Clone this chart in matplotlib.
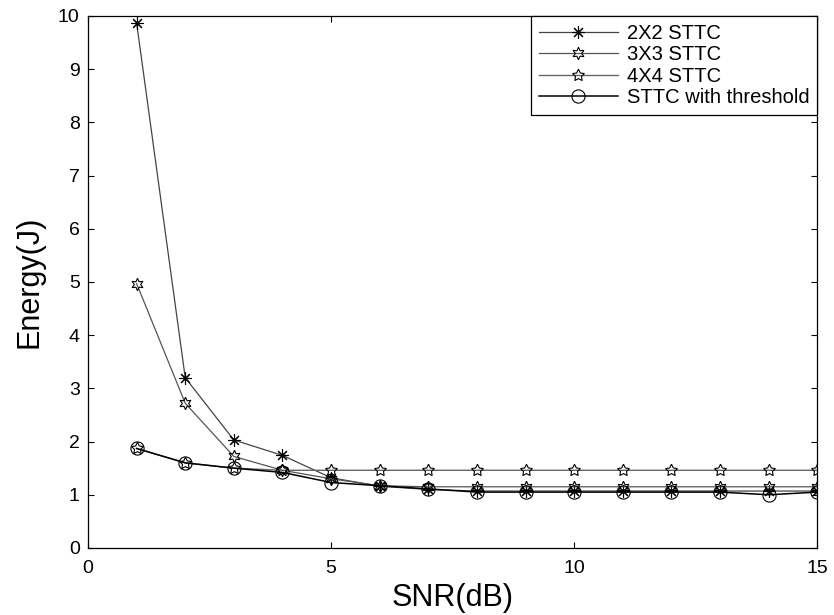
import matplotlib
matplotlib.use("Agg")
import matplotlib.pyplot as plt

plt.rcParams['font.family'] = ['Liberation Sans', 'DejaVu Sans']

snr = list(range(1, 16))
e_2x2 = [9.87, 3.2, 2.03, 1.74, 1.32, 1.16, 1.1, 1.07, 1.07, 1.07, 1.07, 1.07, 1.07, 1.07, 1.07]
e_3x3 = [4.97, 2.72, 1.72, 1.46, 1.3, 1.17, 1.15, 1.15, 1.15, 1.15, 1.15, 1.15, 1.15, 1.15, 1.15]
e_4x4 = [1.87, 1.6, 1.5, 1.46, 1.46, 1.46, 1.46, 1.46, 1.46, 1.46, 1.46, 1.46, 1.46, 1.46, 1.46]
e_thr = [1.87, 1.6, 1.5, 1.42, 1.23, 1.17, 1.11, 1.05, 1.05, 1.05, 1.05, 1.05, 1.05, 1.0, 1.05]
labels = ['2X2 STTC', '3X3 STTC', '4X4 STTC', 'STTC with threshold']

fig = plt.figure(figsize=(8.34, 6.15), dpi=100)
ax = fig.add_axes([0.1055, 0.109, 0.8745, 0.865])

ax.plot(snr, e_2x2, color='#444444', lw=0.9, marker=(8, 2, 0), ms=9,
        mec='black', mew=0.8, label=labels[0])
ax.plot(snr, e_3x3, color='#555555', lw=0.9, marker=(6, 1, 0), ms=9,
        mfc='none', mec='black', mew=0.8, label=labels[1])
ax.plot(snr, e_4x4, color='#666666', lw=1.0, marker=(5, 1, 0), ms=9,
        mfc='none', mec='black', mew=0.8, label=labels[2])
ax.plot(snr, e_thr, color='black', lw=1.1, marker='o', ms=9.5,
        mfc='none', mec='black', mew=0.8, label=labels[3])

ax.set_xlim(0, 15)
ax.set_ylim(0, 10)
ax.set_xticks([0, 5, 10, 15])
ax.set_yticks(range(0, 11))
ax.tick_params(direction='in', length=4, width=0.8, top=True, right=True,
               labelsize=14)
ax.tick_params(axis='x', pad=9)
ax.tick_params(axis='y', pad=6)
for s in ax.spines.values():
    s.set_linewidth(0.9)

ax.set_xlabel('SNR(dB)', fontsize=22, labelpad=4)
ax.set_ylabel('Energy(J)', fontsize=22, labelpad=10)

leg = ax.legend(loc='upper right', borderaxespad=0, fontsize=14.5,
                fancybox=False, edgecolor='black', framealpha=1,
                handlelength=3.9, labelspacing=0.12, handletextpad=0.45,
                borderpad=0.4)
leg.get_frame().set_linewidth(0.9)

fig.savefig('out.png', dpi=100)
